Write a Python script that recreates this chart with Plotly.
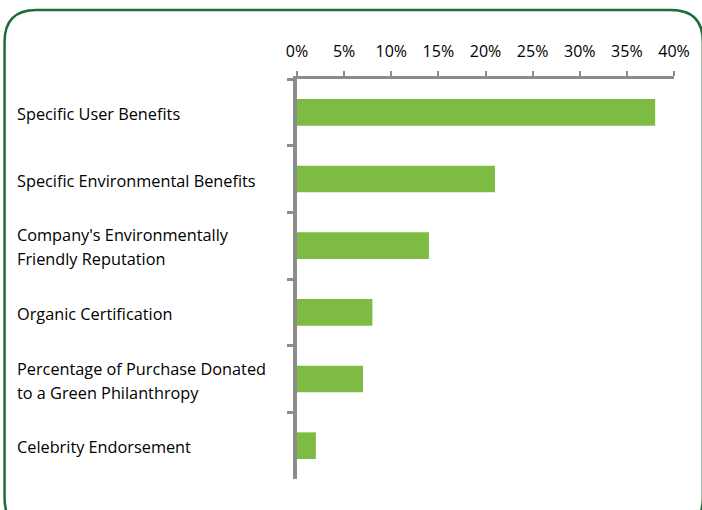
import plotly.graph_objects as go

categories = [
    "Specific User Benefits",
    "Specific Environmental Benefits",
    "Company's Environmentally<br>Friendly Reputation",
    "Organic Certification",
    "Percentage of Purchase Donated<br>to a Green Philanthropy",
    "Celebrity Endorsement",
]
values = [38, 21, 14, 8, 7, 2]
x_ticks = [0, 5, 10, 15, 20, 25, 30, 35, 40]

W, H = 702, 510
L, R, T, B = 297, 26, 79, 31
pw, ph = W - L - R, H - T - B

def px(x):
    return (x - L) / pw

def py(y):
    return (H - B - y) / ph

fig = go.Figure(go.Bar(
    y=categories, x=values, orientation="h",
    marker=dict(color="#7DBB42", line=dict(width=0)),
))

font = "'Open Sans', sans-serif"
LINE_GAP = 24
# category labels, one annotation per text line for wider line spacing
for c in categories:
    lines = c.split("<br>")
    n = len(lines)
    for i, line in enumerate(lines):
        shift = ((n - 1) / 2 - i) * LINE_GAP - 1.5
        fig.add_annotation(
            xref="paper", yref="y", x=px(13.5), y=c, text=line,
            xanchor="left", yanchor="middle", align="left", showarrow=False,
            yshift=shift,
            font=dict(family=font, size=16.3, color="#000000"),
        )

# rounded green frame
x0, x1, y0, y1, r = 3, 705, 10, 530, 32
path = (
    f"M {px(x0)},{py(y0 + r)} "
    f"Q {px(x0)},{py(y0)} {px(x0 + r)},{py(y0)} "
    f"L {px(x1 - r)},{py(y0)} "
    f"Q {px(x1)},{py(y0)} {px(x1)},{py(y0 + r)} "
    f"L {px(x1)},{py(y1 - r)} "
    f"Q {px(x1)},{py(y1)} {px(x1 - r)},{py(y1)} "
    f"L {px(x0 + r)},{py(y1)} "
    f"Q {px(x0)},{py(y1)} {px(x0)},{py(y1 - r)} Z"
)
fig.add_shape(type="path", xref="paper", yref="paper", path=path,
              line=dict(color="#1E6B3A", width=2.5), layer="above")

fig.update_layout(
    width=W, height=H,
    margin=dict(l=L, r=R, t=T, b=B),
    paper_bgcolor="white", plot_bgcolor="white",
    bargap=0.6, showlegend=False,
    font=dict(family=font, size=16, color="#000000"),
    xaxis=dict(
        side="top", range=[0, 40], tickvals=x_ticks,
        ticktext=[f"{v}%" for v in x_ticks],
        showgrid=False, zeroline=False,
        showline=True, linecolor="#8C8C8C", linewidth=3,
        ticks="outside", ticklen=5, tickwidth=2, tickcolor="#8C8C8C",
        tickfont=dict(family=font, size=16, color="#000000"),
        ticklabelstandoff=8,
    ),
    yaxis=dict(
        autorange="reversed", showticklabels=False, showgrid=False,
        zeroline=False, showline=True, linecolor="#8C8C8C", linewidth=4,
        ticks="outside", tickson="boundaries", ticklen=6, tickwidth=3,
        tickcolor="#8C8C8C",
    ),
)

fig.write_html("out.html")
